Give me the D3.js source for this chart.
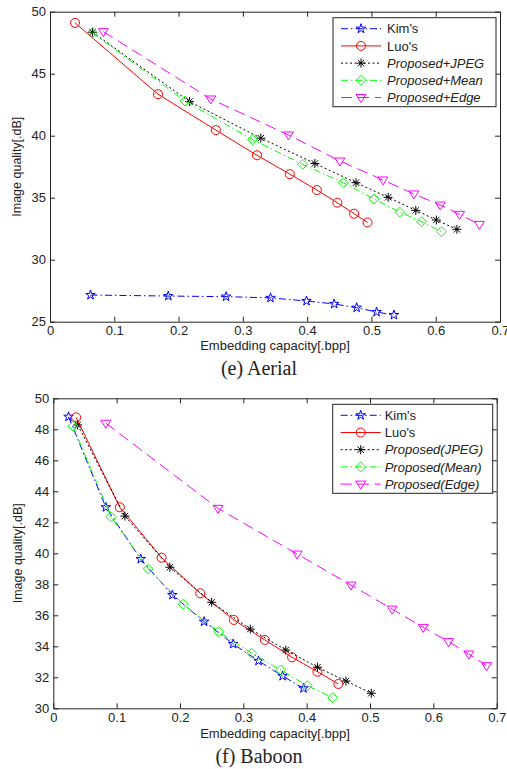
<!DOCTYPE html>
<html>
<head>
<meta charset="utf-8">
<script src="https://cdn.jsdelivr.net/npm/d3@7"></script>
<style>
  body { margin: 0; background: #fff; }
  svg { display: block; }
  text { font-family: "Liberation Sans", Arial, sans-serif; fill: #222; }
</style>
</head>
<body>
<div class="chart"></div>
<script>
// shared x ticks (bpp) and y ticks for each panel
const capacityTicks = [0, 0.1, 0.2, 0.3, 0.4, 0.5, 0.6, 0.7];
const aerialQualityTicks = [25, 30, 35, 40, 45, 50];
const baboonQualityTicks = [30, 32, 34, 36, 38, 40, 42, 44, 46, 48, 50];

const aerialNames = ["Kim's", "Luo's", "Proposed+JPEG", "Proposed+Mean", "Proposed+Edge"];
const baboonNames = ["Kim's", "Luo's", "Proposed(JPEG)", "Proposed(Mean)", "Proposed(Edge)"];

// [embedding capacity (bpp), image quality (dB)]
const aerialKim = [[0.063, 27.15], [0.184, 27.07], [0.274, 27.02], [0.343, 26.92], [0.399, 26.67],
  [0.442, 26.43], [0.477, 26.13], [0.508, 25.78], [0.535, 25.54]];
const aerialLuo = [[0.039, 49.1], [0.168, 43.35], [0.258, 40.45], [0.322, 38.42], [0.373, 36.9],
  [0.415, 35.62], [0.447, 34.6], [0.473, 33.71], [0.494, 33.0]];
const aerialJpeg = [[0.066, 48.35], [0.217, 42.75], [0.328, 39.8], [0.412, 37.76], [0.476, 36.21],
  [0.526, 35.03], [0.569, 33.98], [0.601, 33.2], [0.633, 32.45]];
const aerialMean = [[0.066, 48.3], [0.21, 42.8], [0.315, 39.68], [0.393, 37.69], [0.456, 36.21],
  [0.504, 34.9], [0.544, 33.85], [0.578, 33.06], [0.609, 32.26]];
const aerialEdge = [[0.083, 48.39], [0.25, 42.96], [0.371, 40.06], [0.451, 37.96], [0.518, 36.43],
  [0.566, 35.3], [0.607, 34.41], [0.637, 33.66], [0.668, 32.85]];

const baboonKim = [[0.024, 48.81], [0.083, 42.97], [0.138, 39.63], [0.188, 37.31], [0.238, 35.59],
  [0.284, 34.15], [0.324, 33.06], [0.362, 32.08], [0.395, 31.29]];
const baboonLuo = [[0.036, 48.77], [0.105, 42.97], [0.171, 39.72], [0.232, 37.42], [0.285, 35.7],
  [0.334, 34.41], [0.377, 33.29], [0.417, 32.36], [0.45, 31.57]];
const baboonJpeg = [[0.0385, 48.28], [0.113, 42.4], [0.184, 39.1], [0.25, 36.84], [0.311, 35.11],
  [0.367, 33.76], [0.417, 32.65], [0.462, 31.76], [0.502, 30.97]];
const baboonMean = [[0.031, 48.21], [0.091, 42.36], [0.15, 38.99], [0.205, 36.71], [0.261, 34.94],
  [0.313, 33.55], [0.359, 32.47], [0.401, 31.46], [0.441, 30.68]];
const baboonEdge = [[0.083, 48.39], [0.26, 42.9], [0.385, 39.95], [0.47, 37.95], [0.535, 36.4],
  [0.584, 35.22], [0.624, 34.3], [0.656, 33.5], [0.684, 32.75]];

// matlab-like markers
const symbolAsterisk8 = {
  draw(ctx, size) {
    const r = Math.sqrt(size) / 2, d = r * Math.SQRT1_2;
    ctx.moveTo(-r, 0); ctx.lineTo(r, 0);
    ctx.moveTo(0, -r); ctx.lineTo(0, r);
    ctx.moveTo(-d, -d); ctx.lineTo(d, d);
    ctx.moveTo(-d, d); ctx.lineTo(d, -d);
  }
};
const symbolRhomb = {
  draw(ctx, size) {
    const r = Math.sqrt(size) / 2;
    ctx.moveTo(0, -r); ctx.lineTo(r, 0); ctx.lineTo(0, r); ctx.lineTo(-r, 0); ctx.closePath();
  }
};
const symbolTriDown = {
  draw(ctx, size) {
    const r = Math.sqrt(size) / 2;
    ctx.moveTo(-r, -0.6 * r); ctx.lineTo(r, -0.6 * r); ctx.lineTo(0, r); ctx.closePath();
  }
};

const seriesStyles = [
  { color: "#0000ff", dash: "7,3,1.5,3", type: d3.symbolStar, size: 28 },
  { color: "#ff0000", dash: null, type: d3.symbolCircle, size: 64 },
  { color: "#000000", dash: "2,2.5", type: symbolAsterisk8, size: 81 },
  { color: "#00ff00", dash: "7,3,1.5,3", type: symbolRhomb, size: 100 },
  { color: "#ff00ff", dash: "11,6", type: symbolTriDown, size: 100 }
];

const svg = d3.select(".chart").append("svg")
  .attr("width", 507)
  .attr("height", 769);

function drawPanel(opt) {
  const x = d3.scaleLinear().domain([0, 0.7]).range([opt.left, opt.right]);
  const y = d3.scaleLinear().domain(d3.extent(opt.yTicks)).range([opt.bottom, opt.top]);
  const g = svg.append("g");

  //axes, ticks pointing inward on all four sides
  const axes = [
    d3.axisBottom(x).tickValues(capacityTicks).tickFormat(d3.format("")),
    d3.axisTop(x).tickValues(capacityTicks).tickFormat(""),
    d3.axisLeft(y).tickValues(opt.yTicks).tickFormat(d3.format("")),
    d3.axisRight(y).tickValues(opt.yTicks).tickFormat("")
  ];
  const shifts = [
    `translate(0,${opt.bottom})`, `translate(0,${opt.top})`,
    `translate(${opt.left},0)`, `translate(${opt.right},0)`
  ];
  axes.forEach((a, i) => {
    a.tickSizeInner(-5).tickSizeOuter(0).tickPadding(i === 0 ? 4.5 : 4);
    const ag = g.append("g").attr("transform", shifts[i]).call(a);
    ag.selectAll("path, line").attr("stroke", "#222");
    ag.selectAll("text").style("font-size", "13px").attr("fill", "#222")
      .style("font-family", '"Liberation Sans", Arial, sans-serif');
  });

  //series lines and markers
  opt.series.forEach((pts, i) => {
    const st = seriesStyles[i];
    g.append("path")
      .datum(pts)
      .attr("fill", "none")
      .attr("stroke", st.color)
      .attr("stroke-width", 1)
      .attr("stroke-dasharray", st.dash)
      .attr("d", d3.line().x((d) => x(d[0])).y((d) => y(d[1])));
    g.selectAll(null)
      .data(pts)
      .enter()
      .append("path")
      .attr("transform", (d) => `translate(${x(d[0])},${y(d[1])})`)
      .attr("d", d3.symbol().type(st.type).size(st.size))
      .attr("fill", "none")
      .attr("stroke", st.color)
      .attr("stroke-width", 1);
  });

  //axis titles
  g.append("text")
    .attr("x", (opt.left + opt.right) / 2)
    .attr("y", opt.xTitleY)
    .attr("text-anchor", "middle")
    .style("font-size", "13px")
    .text("Embedding capacity[.bpp]");
  g.append("text")
    .attr("transform", `translate(${opt.yTitleX},${(opt.top + opt.bottom) / 2}) rotate(-90)`)
    .attr("text-anchor", "middle")
    .style("font-size", "12.5px")
    .text("Image quality[.dB]");

  //caption under the panel
  g.append("text")
    .attr("x", 259)
    .attr("y", opt.captionY)
    .attr("text-anchor", "middle")
    .style("font-family", '"Liberation Serif", "Times New Roman", serif')
    .style("font-size", "20px")
    .attr("fill", "#000")
    .text(opt.caption);

  //legend
  const lx = opt.right - 4 - opt.legendWidth, ly = opt.top + 6;
  const lg = g.append("g").attr("transform", `translate(${lx},${ly})`);
  lg.append("rect")
    .attr("width", opt.legendWidth)
    .attr("height", 89)
    .attr("fill", "#fff")
    .attr("stroke", "#222");
  opt.names.forEach((name, i) => {
    const st = seriesStyles[i];
    const ry = 11 + i * 17.2;
    lg.append("line")
      .attr("x1", 8).attr("x2", 48).attr("y1", ry).attr("y2", ry)
      .attr("stroke", st.color)
      .attr("stroke-dasharray", st.dash);
    lg.append("path")
      .attr("transform", `translate(28,${ry})`)
      .attr("d", d3.symbol().type(st.type).size(st.size))
      .attr("fill", "none")
      .attr("stroke", st.color);
    lg.append("text")
      .attr("x", opt.legendText)
      .attr("y", ry)
      .attr("dy", "0.36em")
      .style("font-size", "13px")
      .style("font-style", i >= 2 ? "italic" : "normal")
      .text(name);
  });
}

drawPanel({
  left: 50, right: 500, top: 11.7, bottom: 321.7,
  yTicks: aerialQualityTicks,
  series: [aerialKim, aerialLuo, aerialJpeg, aerialMean, aerialEdge],
  names: aerialNames,
  legendWidth: 163, legendText: 54,
  xTitleY: 350, yTitleX: 21,
  caption: "(e) Aerial", captionY: 375
});

drawPanel({
  left: 53.3, right: 496.7, top: 398.3, bottom: 708.3,
  yTicks: baboonQualityTicks,
  series: [baboonKim, baboonLuo, baboonJpeg, baboonMean, baboonEdge],
  names: baboonNames,
  legendWidth: 160, legendText: 52,
  xTitleY: 738, yTitleX: 22,
  caption: "(f) Baboon", captionY: 763
});
</script>
</body>
</html>
